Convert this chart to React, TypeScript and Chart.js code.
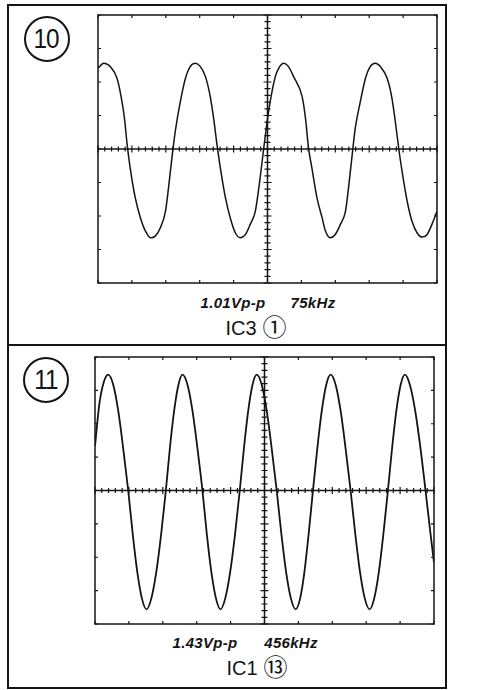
import React, { useEffect, useRef } from "react";
import { Chart, registerables } from "chart.js";

Chart.register(...registerables);

// Screen grid (divisions)
const majorX = [0, 1, 2, 3, 4, 5, 6, 7, 8, 9, 10];
const majorY = [-4, -3, -2, -1, 0, 1, 2, 3, 4];
const minorPerDiv = 5;

// Panel 10: IC3 pin 1, 1.01Vp-p 75kHz (x, y in divisions)
const wave10X = [
  0.0, 0.17, 0.36, 0.56, 0.68, 0.78, 0.86, 0.95, 1.1, 1.25, 1.4, 1.56, 1.69, 1.84, 1.99, 2.08,
  2.18, 2.28, 2.43, 2.58, 2.72, 2.87, 3.02, 3.17, 3.31, 3.41, 3.51, 3.61, 3.76, 3.9, 4.05, 4.2,
  4.35, 4.49, 4.64, 4.77, 4.89, 4.99, 5.08, 5.23, 5.33, 5.48, 5.62, 5.77, 6.02, 6.12, 6.21,
  6.31, 6.46, 6.61, 6.71, 6.85, 7.0, 7.15, 7.3, 7.39, 7.52, 7.59, 7.74, 7.89, 8.03, 8.18, 8.33,
  8.53, 8.67, 8.77, 8.87, 8.97, 9.12, 9.26, 9.41, 9.56, 9.71, 9.85, 10.0,
];
const wave10Y = [
  2.41, 2.56, 2.46, 2.11, 1.57, 0.92, 0.13, -0.57, -1.46, -2.05, -2.45, -2.65, -2.6, -2.35, -1.86, -1.16,
  -0.27, 0.53, 1.42, 2.11, 2.46, 2.56, 2.46, 2.16, 1.57, 0.92, 0.13, -0.57, -1.46, -2.05, -2.5, -2.65,
  -2.55, -2.25, -1.86, -0.96, 0.03, 0.82, 1.42, 2.16, 2.41, 2.56, 2.46, 2.16, 1.57, 0.92, 0.03,
  -0.57, -1.46, -2.05, -2.45, -2.65, -2.55, -2.25, -1.86, -1.16, 0.03, 0.63, 1.42, 2.11, 2.46, 2.56, 2.46,
  2.11, 1.52, 0.82, 0.03, -0.67, -1.56, -2.15, -2.5, -2.63, -2.55, -2.25, -1.86,
];

// Panel 11: IC1 pin 13, 1.43Vp-p 456kHz
const wave11X = [
  0.0, 0.13, 0.26, 0.39, 0.54, 0.685, 0.83, 0.98, 1.115, 1.25, 1.385, 1.52, 1.66, 1.805, 1.95,
  2.09, 2.21, 2.335, 2.46, 2.58, 2.73, 2.875, 3.02, 3.17, 3.3, 3.435, 3.57, 3.7, 3.84, 3.985,
  4.13, 4.27, 4.395, 4.52, 4.645, 4.77, 4.92, 5.065, 5.21, 5.36, 5.5, 5.64, 5.78, 5.92, 6.05,
  6.175, 6.3, 6.43, 6.56, 6.69, 6.82, 6.95, 7.1, 7.245, 7.39, 7.54, 7.68, 7.82, 7.96, 8.1,
  8.235, 8.37, 8.505, 8.64, 8.765, 8.89, 9.015, 9.14, 9.29, 9.445, 9.6, 9.75, 9.88, 10.0,
];
const wave11Y = [
  1.33, 2.6, 3.25, 3.47, 3.16, 2.39, 1.28, 0.0, -1.32, -2.46, -3.24, -3.56, -3.24, -2.46, -1.32,
  0.0, 1.28, 2.39, 3.16, 3.47, 3.16, 2.39, 1.28, 0.0, -1.32, -2.46, -3.24, -3.56, -3.24, -2.46,
  -1.32, 0.0, 1.28, 2.39, 3.16, 3.47, 3.16, 2.39, 1.28, 0.0, -1.32, -2.46, -3.24, -3.56, -3.24,
  -2.46, -1.32, 0.0, 1.28, 2.39, 3.16, 3.47, 3.16, 2.39, 1.28, 0.0, -1.32, -2.46, -3.24, -3.56,
  -3.24, -2.46, -1.32, 0.0, 1.28, 2.39, 3.16, 3.47, 3.16, 2.39, 1.28, 0.0, -1.15, -2.16,
];

const panelNumbers = ["10", "11"];
const amplitudeLabels = ["1.01Vp-p", "1.43Vp-p"];
const frequencyLabels = ["75kHz", "456kHz"];
const pinNames = ["IC3", "IC1"];
const pinNumbers = ["①", "⑬"];

const PAD = 5;
const INK = "#141414";
const FONT = '"Liberation Sans", Arial, "Noto Sans CJK JP", sans-serif';

const scopeGrid = {
  id: "scopeGrid",
  beforeDatasetsDraw(chart: any) {
    const { ctx, chartArea, scales } = chart;
    const { left, right, top, bottom } = chartArea;
    const x = scales.x;
    const y = scales.y;
    const line = (x1: number, y1: number, x2: number, y2: number) => {
      ctx.moveTo(x1, y1);
      ctx.lineTo(x2, y2);
    };
    ctx.save();
    ctx.strokeStyle = INK;
    ctx.lineWidth = 1.5;
    ctx.strokeRect(left, top, right - left, bottom - top);
    const cx = x.getPixelForValue(5);
    const cy = y.getPixelForValue(0);
    ctx.beginPath();
    line(left, cy, right, cy);
    line(cx, top, cx, bottom);
    ctx.stroke();

    ctx.lineWidth = 1.2;
    ctx.beginPath();
    const x0 = majorX[0];
    const y0 = majorY[0];
    for (let i = 0; i <= (majorX.length - 1) * minorPerDiv; i++) {
      const px = x.getPixelForValue(x0 + i / minorPerDiv);
      const len = i % minorPerDiv === 0 ? 3.5 : 2.5;
      line(px, cy - len, px, cy + len);
    }
    for (let i = 0; i <= (majorY.length - 1) * minorPerDiv; i++) {
      const py = y.getPixelForValue(y0 + i / minorPerDiv);
      const len = i % minorPerDiv === 0 ? 4 : 3;
      line(cx - len, py, cx + len, py);
    }
    majorX.forEach((v) => {
      const px = x.getPixelForValue(v);
      line(px, bottom, px, bottom - 3);
      line(px, top, px, top + 3);
    });
    majorY.forEach((v) => {
      const py = y.getPixelForValue(v);
      line(left, py, left + 3, py);
      line(right, py, right - 3, py);
    });
    ctx.stroke();
    ctx.restore();
  },
};

function Scope(props: {
  xs: number[];
  ys: number[];
  left: number;
  top: number;
  width: number;
  height: number;
  lineWidth: number;
}) {
  const ref = useRef<HTMLCanvasElement>(null);
  const { xs, ys, left, top, width, height, lineWidth } = props;
  useEffect(() => {
    const chart = new Chart(ref.current as HTMLCanvasElement, {
      type: "scatter",
      data: {
        datasets: [
          {
            data: xs.map((v, i) => ({ x: v, y: ys[i] })),
            showLine: true,
            borderColor: INK,
            borderWidth: lineWidth,
            pointRadius: 0,
            cubicInterpolationMode: "monotone",
            fill: false,
          } as any,
        ],
      },
      options: {
        animation: false,
        responsive: false,
        devicePixelRatio: 1,
        events: [],
        layout: { padding: PAD },
        plugins: { legend: { display: false }, tooltip: { enabled: false } },
        scales: {
          x: { type: "linear", min: majorX[0], max: majorX[majorX.length - 1], display: false },
          y: { type: "linear", min: majorY[0], max: majorY[majorY.length - 1], display: false },
        },
      },
      plugins: [scopeGrid],
    });
    return () => chart.destroy();
  }, []);
  return (
    <canvas
      ref={ref}
      width={width + 2 * PAD}
      height={height + 2 * PAD}
      style={{
        position: "absolute",
        left: left - PAD,
        top: top - PAD,
        width: width + 2 * PAD,
        height: height + 2 * PAD,
      }}
    />
  );
}

const abs = (left: number, top: number, extra: React.CSSProperties = {}): React.CSSProperties => ({
  position: "absolute",
  left,
  top,
  transform: "translate(-50%, -50%)",
  whiteSpace: "nowrap",
  lineHeight: 1,
  color: INK,
  fontFamily: FONT,
  ...extra,
});

function Circled({ text, cx, cy }: { text: string; cx: number; cy: number }) {
  return (
    <div
      style={{
        ...abs(cx, cy),
        width: 46,
        height: 46,
        boxSizing: "border-box",
        border: `2px solid ${INK}`,
        borderRadius: "50%",
        display: "flex",
        alignItems: "center",
        justifyContent: "center",
        fontSize: 27,
        letterSpacing: -1,
      }}
    >
      <span style={{ display: "inline-block", transform: "scaleX(0.9)", marginTop: 1 }}>{text}</span>
    </div>
  );
}

function PinLabel({ name, pin, cx, cy }: { name: string; pin: string; cx: number; cy: number }) {
  return (
    <div style={abs(cx, cy, { fontSize: 20, display: "flex", alignItems: "center" })}>
      <span>{name}</span>
      <span style={{ fontSize: 24, marginLeft: 6 }}>{pin}</span>
    </div>
  );
}

export default function App() {
  const italic: React.CSSProperties = { fontSize: 15, fontWeight: "bold", fontStyle: "italic", letterSpacing: 0.3 };
  return (
    <div style={{ position: "absolute", left: 0, top: 0, width: 484, height: 690, background: "#fff" }}>
      <div
        style={{
          position: "absolute",
          left: 7,
          top: 4,
          width: 440,
          height: 685,
          boxSizing: "border-box",
          border: `2px solid ${INK}`,
        }}
      />
      <div style={{ position: "absolute", left: 7, top: 344, width: 440, height: 2, background: INK }} />

      <Circled text={panelNumbers[0]} cx={46.5} cy={38.5} />
      <Scope xs={wave10X} ys={wave10Y} left={98} top={15} width={339} height={268} lineWidth={1.5} />
      <div style={abs(233, 302, italic)}>{amplitudeLabels[0]}</div>
      <div style={abs(313, 302, italic)}>{frequencyLabels[0]}</div>
      <PinLabel name={pinNames[0]} pin={pinNumbers[0]} cx={256} cy={328} />

      <Circled text={panelNumbers[1]} cx={46} cy={380} />
      <Scope xs={wave11X} ys={wave11Y} left={95} top={357} width={339} height={267} lineWidth={1.8} />
      <div style={abs(205, 642, italic)}>{amplitudeLabels[1]}</div>
      <div style={abs(291, 642, italic)}>{frequencyLabels[1]}</div>
      <PinLabel name={pinNames[1]} pin={pinNumbers[1]} cx={257} cy={668} />
    </div>
  );
}
